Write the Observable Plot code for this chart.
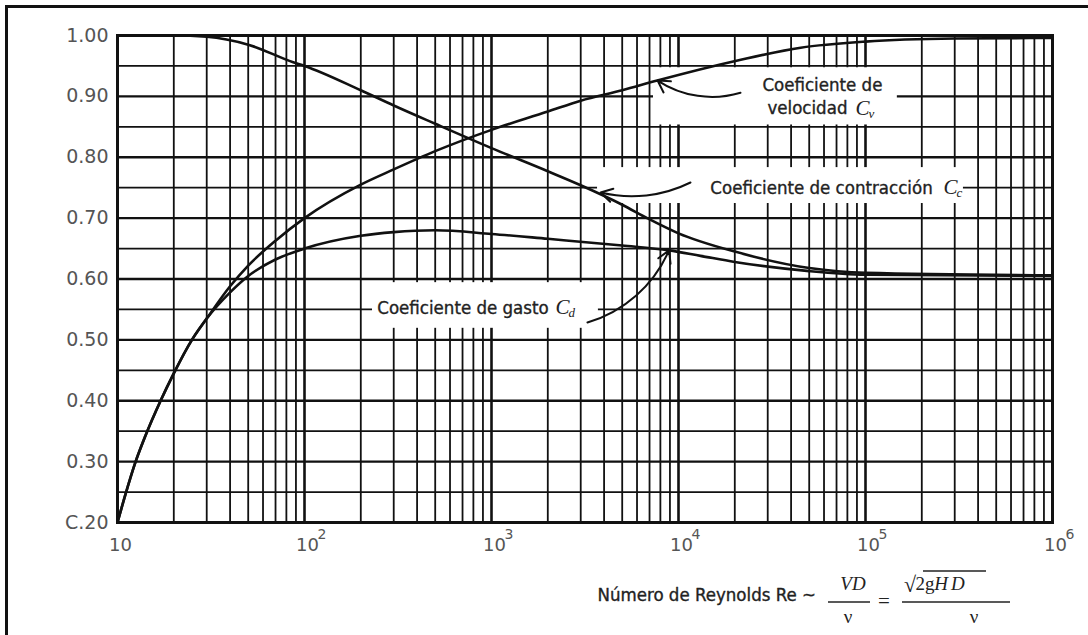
<!DOCTYPE html>
<html><head><meta charset="utf-8">
<script src="https://cdn.jsdelivr.net/npm/d3@7"></script>
<script src="https://cdn.jsdelivr.net/npm/@observablehq/plot@0.6"></script>
<style>
html,body{margin:0;padding:0;background:#fff;}
#wrap{position:relative;width:1088px;height:635px;overflow:hidden;background:#fff;}
#wrap svg{position:absolute;left:0;top:0;}
#border{position:absolute;left:5px;top:5px;width:1200px;height:800px;border-left:3px solid #111;border-top:3px solid #111;z-index:2;}
</style></head><body><div id="wrap"><div id="border"></div></div>
<script>
// ---- data (Reynolds number vs coefficient) ----
const cvRe  = [10, 11, 12.5, 14, 17, 20, 25, 30, 40, 50, 70, 100, 200, 300, 500, 1000, 2000, 3000, 5000, 7700, 20700, 45000, 100000, 300000, 1000000];
const cvVal = [0.20, 0.245, 0.30, 0.34, 0.40, 0.445, 0.50, 0.535, 0.588, 0.622, 0.663, 0.70, 0.755, 0.78, 0.81, 0.845, 0.875, 0.893, 0.91, 0.926, 0.959, 0.98, 0.99, 0.995, 0.996];

const ccRe  = [10, 20, 30, 50, 87, 100, 200, 300, 500, 1000, 2000, 3000, 5000, 6800, 10000, 20000, 50000, 100000, 1000000];
const ccVal = [1.00, 1.00, 0.998, 0.985, 0.956, 0.95, 0.91, 0.885, 0.855, 0.815, 0.777, 0.754, 0.722, 0.70, 0.675, 0.645, 0.618, 0.61, 0.606];

const cdRe  = [10, 11, 12.5, 14, 17, 20, 25, 30, 40, 50, 70, 100, 200, 300, 500, 1000, 2000, 5000, 8900, 13100, 20000, 50000, 100000, 1000000];
const cdVal = [0.20, 0.245, 0.30, 0.34, 0.40, 0.445, 0.50, 0.535, 0.578, 0.605, 0.632, 0.65, 0.671, 0.677, 0.68, 0.674, 0.666, 0.655, 0.647, 0.638, 0.628, 0.613, 0.607, 0.605];

// ---- ticks / grid ----
const decades = [10, 100, 1000, 10000, 100000, 1000000];
const mantissas = [2, 3, 4, 5, 6, 7, 8, 9];
const yMajor = [0.20, 0.30, 0.40, 0.50, 0.60, 0.70, 0.80, 0.90, 1.00];
const yMinor = [0.25, 0.35, 0.45, 0.55, 0.65, 0.75, 0.85, 0.95];
const yLabels = ["C.20", "0.30", "0.40", "0.50", "0.60", "0.70", "0.80", "0.90", "1.00"];
const xBase = ["10", "10", "10", "10", "10", "10"];
const xExp = ["", "2", "3", "4", "5", "6"];

// ---- annotations ----
const labelText = ["Coeficiente de", "velocidad", "Coeficiente de contracción", "Coeficiente de gasto"];
const labelRe = [28100, 29900, 14800, 245];
const labelVal = [0.918, 0.880, 0.750, 0.553];
const symRe = [88500, 261000, 2200];
const symVal = [0.880, 0.750, 0.553];
const symSub = ["v", "c", "d"];
const leaderRe1 = [21460, 11590, 3260];
const leaderVal1 = [0.906, 0.7585, 0.5285];
const leaderRe2 = [7730, 3830, 8900];
const leaderVal2 = [0.926, 0.742, 0.647];
const leaderBend = [25, 20, -25];
const maskRe1 = [7350, 3690, 231];
const maskRe2 = [148000, 334000, 3730];
const maskVal1 = [0.853, 0.724, 0.519];
const maskVal2 = [0.947, 0.783, 0.594];

const xMinor = decades.slice(0, 5).flatMap(d => mantissas.map(m => m * d));
const curves = [
  ...cvRe.map((r, i) => ({re: r, v: cvVal[i], s: "Cv"})),
  ...ccRe.map((r, i) => ({re: r, v: ccVal[i], s: "Cc"})),
  ...cdRe.map((r, i) => ({re: r, v: cdVal[i], s: "Cd"}))
];
const masks = maskRe1.map((r, i) => ({x1: r, x2: maskRe2[i], y1: maskVal1[i], y2: maskVal2[i]}));
const leaders = leaderRe1.map((r, i) => ({x1: r, y1: leaderVal1[i], x2: leaderRe2[i], y2: leaderVal2[i], bend: leaderBend[i]}));
const labels = labelText.map((t, i) => ({t, x: labelRe[i], y: labelVal[i]}));
const syms = symSub.map((s, i) => ({s, x: symRe[i], y: symVal[i]}));

const sans = "DejaVu Sans Condensed, DejaVu Sans, sans-serif";
const serif = "Liberation Serif, DejaVu Serif, serif";

const chart = Plot.plot({
  width: 1088, height: 635,
  marginLeft: 117, marginRight: 36, marginTop: 35, marginBottom: 113,
  x: {type: "log", domain: [10, 1e6], axis: null},
  y: {domain: [0.2, 1.0], axis: null},
  style: {background: "transparent", overflow: "visible"},
  marks: [
    Plot.ruleX(xMinor, {stroke: "#111", strokeWidth: 1.8}),
    Plot.ruleX(decades, {stroke: "#111", strokeWidth: 2.6}),
    Plot.ruleY(yMinor, {stroke: "#111", strokeWidth: 1.8}),
    Plot.ruleY(yMajor, {stroke: "#111", strokeWidth: 2.4}),
    Plot.rect(masks, {x1: "x1", x2: "x2", y1: "y1", y2: "y2", fill: "white"}),
    Plot.frame({stroke: "#111", strokeWidth: 3}),
    Plot.line(curves, {x: "re", y: "v", z: "s", stroke: "#111", strokeWidth: 2.6, curve: "monotone-x"}),
    ...leaders.map(l => Plot.arrow([l], {x1: "x1", y1: "y1", x2: "x2", y2: "y2", bend: l.bend, stroke: "#111", strokeWidth: 2, headLength: 10})),
    Plot.text(labels, {x: "x", y: "y", text: "t", textAnchor: "start", fontFamily: sans, fontSize: 18.5, fill: "#222", stroke: "#222", strokeWidth: 0.35}),
    Plot.text(syms, {x: "x", y: "y", text: () => "C", textAnchor: "start", fontFamily: serif, fontStyle: "italic", fontSize: 21, fill: "#222"}),
    Plot.text(syms, {x: "x", y: "y", text: "s", textAnchor: "start", dx: 13, dy: 5, fontFamily: serif, fontStyle: "italic", fontSize: 13, fill: "#222"}),
    Plot.text(yMajor, {x: 10, y: d => d, text: (d, i) => yLabels[i], textAnchor: "end", dx: -9, fontFamily: "DejaVu Sans", fontSize: 19, fill: "#555"}),
    Plot.text(decades, {x: d => d, y: 0.2, text: (d, i) => xBase[i], dx: 3, dy: 23, fontFamily: "DejaVu Sans", fontSize: 18, fill: "#555"}),
    Plot.text(decades, {x: d => d, y: 0.2, text: (d, i) => xExp[i], textAnchor: "start", dx: 13, dy: 12, fontFamily: "DejaVu Sans", fontSize: 14, fill: "#555"}),
    Plot.text(["Número de Reynolds Re ~"], {frameAnchor: "bottom-left", dx: 480, dy: 78, textAnchor: "start", fontFamily: sans, fontSize: 18.5, fill: "#222", stroke: "#222", strokeWidth: 0.35})
  ]
});
document.getElementById("wrap").appendChild(chart);

// formula (typographic decoration)
const svg = d3.select(chart);
const g = svg.append("g").attr("fill", "#222").attr("stroke", "none").attr("font-family", serif).attr("font-size", 19);
g.append("text").attr("x", 853).attr("y", 590).attr("text-anchor", "middle").attr("font-style", "italic").text("VD");
g.append("text").attr("x", 848).attr("y", 623).attr("text-anchor", "middle").text("ν");
g.append("text").attr("x", 884).attr("y", 608).attr("text-anchor", "middle").attr("font-size", 21).text("=");
g.append("text").attr("x", 910).attr("y", 592).attr("font-size", 22).text("√");
g.append("text").attr("x", 925).attr("y", 590).text("2g");
g.append("text").attr("x", 951).attr("y", 590).attr("font-style", "italic").attr("letter-spacing", 3).text("HD");
g.append("text").attr("x", 974).attr("y", 623).attr("text-anchor", "middle").text("ν");
const lines = [[828, 602, 870, 602], [902, 602, 1010, 602], [923, 571, 986, 571]];
svg.append("g").attr("stroke", "#222").attr("stroke-width", 1.3).selectAll("line").data(lines).join("line")
  .attr("x1", d => d[0]).attr("y1", d => d[1]).attr("x2", d => d[2]).attr("y2", d => d[3]);
</script>
</body></html>
